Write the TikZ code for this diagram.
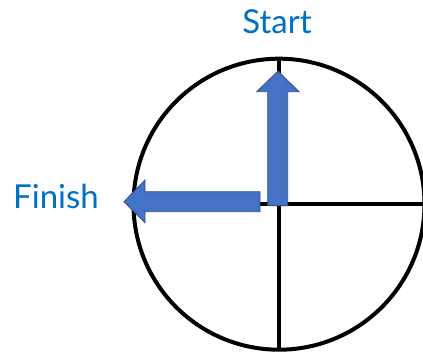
\documentclass[tikz,border=0pt]{standalone}
\usepackage{fontspec}
\setmainfont{Lato}
\definecolor{txtblue}{HTML}{0070C0}
\definecolor{arrfill}{HTML}{4472C4}
\definecolor{arredge}{HTML}{2F528F}
\begin{document}
\begin{tikzpicture}[x=1pt,y=-1pt,
  dial/.style={line width=4pt,draw=black},
  blockarrow/.style={fill=arrfill,draw=arredge,line width=0.8pt,line join=miter},
  lbl/.style={text=txtblue,font=\fontsize{33}{36}\selectfont,inner sep=0pt}]
\useasboundingbox (0,0) rectangle (423,352);
\coordinate (c) at (279,204.2);
\draw[dial] (c) circle[radius=145.5];
\draw[dial] (279,58.7) -- (279,349.7);
\draw[dial] (133.5,204.2) -- (424.5,204.2);
% left arrow
\draw[blockarrow] (260,191.7) -- (145,191.7) -- (145,180) -- (124,201.7) -- (145,222.7) -- (145,211.7) -- (260,211.7) -- cycle;
% up arrow
\draw[blockarrow] (267.7,205.7) -- (267.7,91.7) -- (256.7,91.7) -- (278,71) -- (299,91.7) -- (287.7,91.7) -- (287.7,205.7) -- cycle;
\node[lbl,anchor=base] (start) at (277,33.3) {Start};
\node[lbl,anchor=base] (finish) at (56,208.3) {Finish};
\end{tikzpicture}
\end{document}
